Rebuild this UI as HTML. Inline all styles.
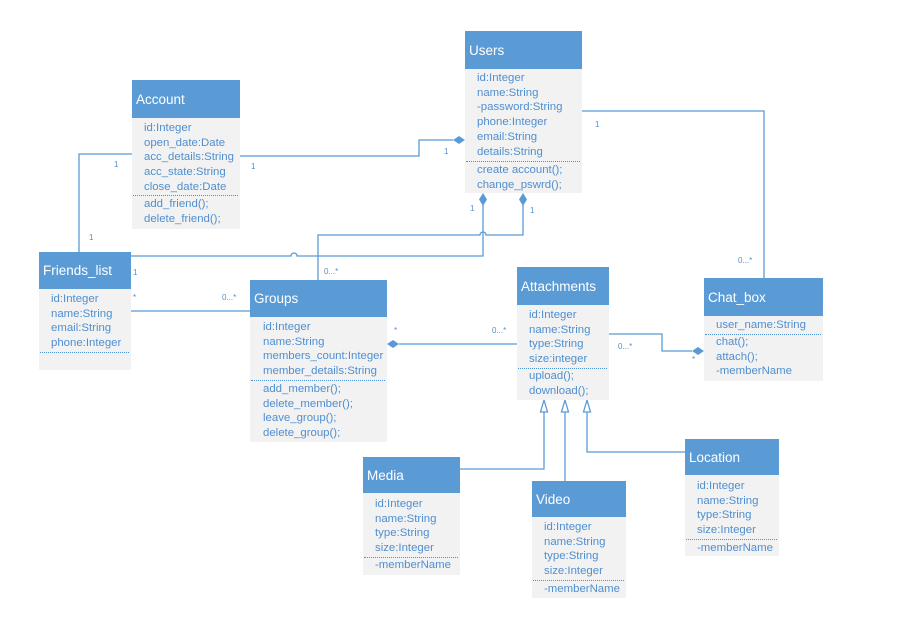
<!DOCTYPE html>
<html><head><meta charset="utf-8"><style>
body{margin:0;width:899px;height:625px;background:#fff;position:relative;overflow:hidden;font-family:"Liberation Sans",sans-serif}
.b{position:absolute;background:#f2f2f2}
.h{background:#5b9bd5;color:#fff;font-size:13.5px;padding-left:4px;box-sizing:border-box;display:flex;align-items:center}
.t{position:absolute;color:#4f8fd0;font-size:11.4px;white-space:nowrap;line-height:14.7px}
.s{position:absolute;border-top:1px dotted #4f8fd0}
.l{position:absolute;color:#4f8fd0;font-size:8px}
svg{position:absolute;left:0;top:0}
</style></head><body>
<svg width="899" height="625">
<g stroke="#5b9bd5" stroke-width="1.3" fill="none">
<path d="M240 156H419V140H453"/>
<path d="M79 252V154H132"/>
<path d="M131 256H291a3 3 0 0 1 6 0H483V205"/>
<path d="M318 280V235H480a3 3 0 0 1 6 0H523V205"/>
<path d="M131 311H250"/>
<path d="M399 344H517"/>
<path d="M609 334H662V351H692"/>
<path d="M582 111H764V278"/>
<path d="M460 469H544V412"/>
<path d="M565 481V412"/>
<path d="M685 452H587V412"/>
<path d="M544 400l-3.5 12h7z M565 400l-3.5 12h7z M587 400l-3.5 12h7z" fill="#fff"/>
</g>
<g fill="#5b9bd5">
<path d="M465 140l-6-4-6 4 6 4z"/>
<path d="M483 193l-4 6.5 4 6.5 4-6.5z"/>
<path d="M523 193l-4 6.5 4 6.5 4-6.5z"/>
<path d="M387 344l6-4 6 4-6 4z"/>
<path d="M704 351l-6-4-6 4 6 4z"/>
</g>
</svg>

<div class="b" style="left:465px;top:31px;width:117px;height:162px"><div class="h" style="height:38px">Users</div></div>
<div class="t" style="left:477px;top:71px">id:Integer<br>name:String<br>-password:String<br>phone:Integer<br>email:String<br>details:String</div>
<div class="s" style="left:466px;top:161px;width:114px"></div>
<div class="t" style="left:477px;top:163px">create account();<br>change_pswrd();</div>

<div class="b" style="left:132px;top:80px;width:108px;height:149px"><div class="h" style="height:38px">Account</div></div>
<div class="t" style="left:144px;top:121px">id:Integer<br>open_date:Date<br>acc_details:String<br>acc_state:String<br>close_date:Date</div>
<div class="s" style="left:133px;top:195px;width:105px"></div>
<div class="t" style="left:144px;top:197px">add_friend();<br>delete_friend();</div>

<div class="b" style="left:39px;top:252px;width:92px;height:118px"><div class="h" style="height:37px">Friends_list</div></div>
<div class="t" style="left:51px;top:292px">id:Integer<br>name:String<br>email:String<br>phone:Integer</div>
<div class="s" style="left:40px;top:352px;width:89px"></div>

<div class="b" style="left:250px;top:280px;width:137px;height:162px"><div class="h" style="height:37px">Groups</div></div>
<div class="t" style="left:263px;top:320px">id:Integer<br>name:String<br>members_count:Integer<br>member_details:String</div>
<div class="s" style="left:251px;top:380px;width:134px"></div>
<div class="t" style="left:263px;top:382px">add_member();<br>delete_member();<br>leave_group();<br>delete_group();</div>

<div class="b" style="left:517px;top:267px;width:92px;height:133px"><div class="h" style="height:38px">Attachments</div></div>
<div class="t" style="left:529px;top:308px">id:Integer<br>name:String<br>type:String<br>size:integer</div>
<div class="s" style="left:518px;top:368px;width:89px"></div>
<div class="t" style="left:529px;top:369px">upload();<br>download();</div>

<div class="b" style="left:704px;top:278px;width:119px;height:103px"><div class="h" style="height:38px">Chat_box</div></div>
<div class="t" style="left:716px;top:318px">user_name:String</div>
<div class="s" style="left:705px;top:334px;width:116px"></div>
<div class="t" style="left:716px;top:335px">chat();<br>attach();<br>-memberName</div>

<div class="b" style="left:363px;top:457px;width:97px;height:118px"><div class="h" style="height:36px">Media</div></div>
<div class="t" style="left:375px;top:497px">id:Integer<br>name:String<br>type:String<br>size:Integer</div>
<div class="s" style="left:364px;top:557px;width:94px"></div>
<div class="t" style="left:375px;top:558px">-memberName</div>

<div class="b" style="left:532px;top:481px;width:94px;height:117px"><div class="h" style="height:36px">Video</div></div>
<div class="t" style="left:544px;top:520px">id:Integer<br>name:String<br>type:String<br>size:Integer</div>
<div class="s" style="left:533px;top:580px;width:91px"></div>
<div class="t" style="left:544px;top:582px">-memberName</div>

<div class="b" style="left:685px;top:439px;width:94px;height:117px"><div class="h" style="height:36px">Location</div></div>
<div class="t" style="left:697px;top:479px">id:Integer<br>name:String<br>type:String<br>size:Integer</div>
<div class="s" style="left:686px;top:539px;width:91px"></div>
<div class="t" style="left:697px;top:541px">-memberName</div>

<div class="l" style="left:114px;top:160px">1</div>
<div class="l" style="left:251px;top:162px">1</div>
<div class="l" style="left:444px;top:147px">1</div>
<div class="l" style="left:89px;top:233px">1</div>
<div class="l" style="left:470px;top:204px">1</div>
<div class="l" style="left:530px;top:206px">1</div>
<div class="l" style="left:595px;top:120px">1</div>
<div class="l" style="left:133px;top:268px">1</div>
<div class="l" style="left:133px;top:293px">*</div>
<div class="l" style="left:222px;top:293px">0...*</div>
<div class="l" style="left:324px;top:267px">0...*</div>
<div class="l" style="left:394px;top:326px">*</div>
<div class="l" style="left:492px;top:326px">0...*</div>
<div class="l" style="left:618px;top:342px">0...*</div>
<div class="l" style="left:692px;top:355px">*</div>
<div class="l" style="left:738px;top:256px">0...*</div>
</body></html>
